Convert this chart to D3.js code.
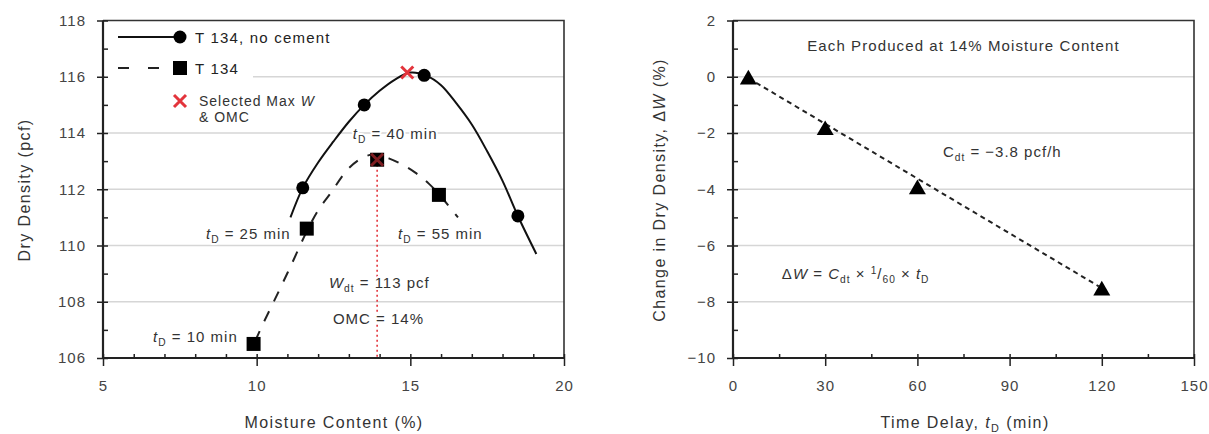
<!DOCTYPE html>
<html>
<head>
<meta charset="utf-8">
<script src="https://cdn.jsdelivr.net/npm/d3@7"></script>
<style>
body { margin: 0; background: #fff; }
svg text { font-family: "Liberation Sans", Arial, sans-serif; }
</style>
</head>
<body>
<div id="chart"></div>
<script>
// ---- left panel data
const moistureNoCement = [11.5, 13.5, 15.45, 18.5];
const densityNoCement = [112.05, 115.0, 116.05, 111.05];
const moistureT134 = [9.9, 11.63, 13.92, 15.93];
const densityT134 = [106.5, 110.6, 113.05, 111.8];
const selectedMoisture = [14.9, 13.92];
const selectedDensity = [116.15, 113.05];
// fitted curves as drawn in the figure
const fitNoCementMoisture = [11.1, 11.5, 12.0, 12.5, 13.0, 13.5, 14.0, 14.5, 15.0, 15.5, 16.0, 16.5, 17.0, 17.5, 18.0, 18.5, 19.1];
const fitNoCementDensity = [111.0, 112.05, 112.95, 113.7, 114.4, 115.0, 115.5, 115.9, 116.15, 116.05, 115.7, 115.05, 114.3, 113.35, 112.3, 111.05, 109.7];
const fitT134Moisture = [9.95, 10.2, 10.6, 11.1, 11.63, 12.0, 12.4, 13.0, 13.5, 13.9, 14.3, 14.7, 15.15, 15.6, 15.95, 16.55];
const fitT134Density = [106.6, 107.2, 108.1, 109.25, 110.5, 111.25, 111.85, 112.75, 113.15, 113.25, 113.1, 112.9, 112.6, 112.2, 111.8, 111.0];
const leftXTicks = [5, 10, 15, 20];
const leftXMinor = [6, 7, 8, 9, 11, 12, 13, 14, 16, 17, 18, 19];
const leftYTicks = [106, 108, 110, 112, 114, 116, 118];
const leftYMinor = [107, 109, 111, 113, 115, 117];
const leftGrid = [108, 110, 112, 114, 116];

// ---- right panel data
const delayMin = [5, 30, 60, 120];
const densityChange = [-0.1, -1.9, -4.0, -7.6];
const trendDelay = [5, 119];
const trendChange = [-0.05, -7.45];
const rightXTicks = [0, 30, 60, 90, 120, 150];
const rightXMinor = [15, 45, 75, 105, 135];
const rightYTicks = [-10, -8, -6, -4, -2, 0, 2];
const rightYLabels = ["\u221210", "\u22128", "\u22126", "\u22124", "\u22122", "0", "2"];
const rightYMinor = [-9, -7, -5, -3, -1, 1];
const rightGrid = [-8, -6, -4, -2, 0];

const svg = d3.select("#chart").append("svg")
    .attr("width", 1209)
    .attr("height", 434);

const xL = d3.scaleLinear().domain([5, 20]).range([103, 564]);
const yL = d3.scaleLinear().domain([106, 118]).range([358, 20.5]);
const xR = d3.scaleLinear().domain([0, 150]).range([733, 1194]);
const yR = d3.scaleLinear().domain([-10, 2]).range([358, 20.5]);

const RED = "#e3343c";

function drawGrid(x, y, vals) {
    svg.append("g").selectAll("line")
        .data(vals)
        .join("line")
        .attr("x1", x.range()[0]).attr("x2", x.range()[1])
        .attr("y1", d => y(d)).attr("y2", d => y(d))
        .attr("stroke", "#d6d6d6")
        .attr("stroke-width", 1.5);
}

function drawFrame(x, y) {
    const [x0, x1] = x.range(), [y0, y1] = y.range();
    svg.append("path")
        .attr("d", `M${x0},${y1}H${x1}V${y0}`)
        .attr("fill", "none")
        .attr("stroke", "#333")
        .attr("stroke-width", 1.6);
}

function styleTicks(g, size, padFix) {
    g.select(".domain").remove();
    g.selectAll(".tick line").attr("stroke", "#222").attr("stroke-width", 1.5);
    g.selectAll(".tick text")
        .attr("fill", "#444")
        .attr("font-size", 15)
        .attr("letter-spacing", "1px")
        .attr("font-family", '"Liberation Sans", Arial, sans-serif');
}

function drawAxes(x, y, xt, xm, yt, ym, yFmt) {
    const y0 = y.range()[0], x0 = x.range()[0];
    // outer ticks + labels
    svg.append("g").attr("transform", `translate(0,${y0})`)
        .call(d3.axisBottom(x).tickValues(xt).tickSize(8).tickPadding(14).tickFormat(d3.format("d")))
        .call(g => styleTicks(g));
    svg.append("g").attr("transform", `translate(0,${y0})`)
        .call(d3.axisTop(x).tickValues(xt.concat(xm)).tickSize(4).tickFormat(""))
        .call(g => styleTicks(g));
    svg.append("g").attr("transform", `translate(${x0},0)`)
        .call(d3.axisLeft(y).tickValues(yt).tickSize(6).tickPadding(11).tickFormat(yFmt))
        .call(g => styleTicks(g));
    svg.append("g").attr("transform", `translate(${x0},0)`)
        .call(d3.axisRight(y).tickValues(yt.concat(ym)).tickSize(5).tickFormat(""))
        .call(g => styleTicks(g));
    // axis lines
    svg.append("path")
        .attr("d", `M${x0},${y.range()[1]}V${y0}H${x.range()[1]}`)
        .attr("fill", "none")
        .attr("stroke", "#222")
        .attr("stroke-width", 2.2);
}

// rich text with italic / sub / sup parts, white halo so grid lines break behind it
function rich(x, y, parts, opts) {
    opts = opts || {};
    const size = opts.size || 15;
    const t = svg.append("text")
        .attr("x", x).attr("y", y)
        .attr("font-size", size)
        .attr("fill", opts.fill || "#333")
        .attr("letter-spacing", opts.ls || "1px")
        .attr("text-anchor", opts.anchor || "start")
        .attr("stroke", opts.halo === false ? "none" : "#fff")
        .attr("stroke-width", 4)
        .attr("stroke-linejoin", "round")
        .attr("paint-order", "stroke");
    if (opts.rotate) t.attr("transform", `rotate(-90,${x},${y})`).attr("dy", "0.35em");
    let shift = 0;
    parts.forEach(p => {
        const s = p.sub ? 4 : p.sup ? -5 : 0;
        const ts = t.append("tspan").text(p.t);
        if (s - shift !== 0) ts.attr("dy", s - shift);
        shift = s;
        if (p.sub || p.sup) ts.attr("font-size", size * 0.68);
        if (p.i) ts.attr("font-style", "italic");
    });
    return t;
}

function xMark(sel) {
    return sel.attr("d", "M-6,-6L6,6M-6,6L6,-6")
        .attr("stroke", RED)
        .attr("stroke-width", 3)
        .attr("fill", "none");
}

// ================= LEFT PANEL =================
drawGrid(xL, yL, leftGrid);
drawFrame(xL, yL);

// legend box hides grid behind it
svg.append("rect").attr("x", 105).attr("y", 22).attr("width", 148).attr("height", 104).attr("fill", "#fff");

const noCement = moistureNoCement.map((m, i) => ({x: m, y: densityNoCement[i]}));
const t134 = moistureT134.map((m, i) => ({x: m, y: densityT134[i]}));
const fitA = fitNoCementMoisture.map((m, i) => ({x: m, y: fitNoCementDensity[i]}));
const fitB = fitT134Moisture.map((m, i) => ({x: m, y: fitT134Density[i]}));
const selected = selectedMoisture.map((m, i) => ({x: m, y: selectedDensity[i]}));

const lineL = d3.line().x(d => xL(d.x)).y(d => yL(d.y)).curve(d3.curveCatmullRom);

// red dotted line at OMC
svg.append("line")
    .attr("x1", xL(selected[1].x)).attr("x2", xL(selected[1].x))
    .attr("y1", yL(selected[1].y)).attr("y2", yL(106))
    .attr("stroke", RED)
    .attr("stroke-width", 1.6)
    .attr("stroke-dasharray", "2,3");

svg.append("path").datum(fitB)
    .attr("d", lineL)
    .attr("fill", "none")
    .attr("stroke", "#222")
    .attr("stroke-width", 2)
    .attr("stroke-dasharray", "11,11");

svg.append("path").datum(fitA)
    .attr("d", lineL)
    .attr("fill", "none")
    .attr("stroke", "#111")
    .attr("stroke-width", 2);

svg.append("g").selectAll("rect")
    .data(t134)
    .join("rect")
    .attr("x", d => xL(d.x) - 7).attr("y", d => yL(d.y) - 7)
    .attr("width", 14).attr("height", 14)
    .attr("fill", "#000");

svg.append("g").selectAll("circle")
    .data(noCement)
    .join("circle")
    .attr("cx", d => xL(d.x)).attr("cy", d => yL(d.y))
    .attr("r", 6.5)
    .attr("fill", "#000");

svg.append("g").selectAll("path")
    .data(selected)
    .join("path")
    .attr("transform", d => `translate(${xL(d.x)},${yL(d.y)})`)
    .call(xMark)
    .attr("opacity", (d, i) => i === 1 ? 0.55 : 1);

// legend
svg.append("line").attr("x1", 118).attr("x2", 180).attr("y1", 37).attr("y2", 37)
    .attr("stroke", "#111").attr("stroke-width", 2);
svg.append("circle").attr("cx", 180).attr("cy", 37).attr("r", 6.5).attr("fill", "#000");
rich(195, 43, [{t: "T 134, no cement"}], {fill: "#222", halo: false, ls: "1.2px"});

svg.append("line").attr("x1", 118).attr("x2", 166).attr("y1", 68).attr("y2", 68)
    .attr("stroke", "#222").attr("stroke-width", 2).attr("stroke-dasharray", "11,19");
svg.append("rect").attr("x", 173).attr("y", 61).attr("width", 14).attr("height", 14).attr("fill", "#000");
rich(195, 74, [{t: "T 134"}], {fill: "#222", halo: false, ls: "1.2px"});

svg.append("path").attr("transform", "translate(180,101)").call(xMark);
rich(199, 106, [{t: "Selected Max "}, {t: "W", i: true}], {fill: "#333", halo: false, size: 14});
rich(199, 122, [{t: "& OMC"}], {fill: "#333", halo: false, size: 14});

// annotations
const tD = n => [{t: "t", i: true}, {t: "D", sub: true}, {t: " = " + n + " min"}];
rich(xL(13.13), yL(113.79), tD(40));
rich(xL(8.35), yL(110.23), tD(25));
rich(xL(14.6), yL(110.23), tD(55));
rich(xL(6.63), yL(106.57), tD(10));
rich(xL(12.35), yL(108.49), [{t: "W", i: true}, {t: "dt", sub: true}, {t: " = 113 pcf"}]);
rich(xL(12.48), yL(107.21), [{t: "OMC = 14%"}]);

drawAxes(xL, yL, leftXTicks, leftXMinor, leftYTicks, leftYMinor, d3.format("d"));

// axis titles
rich(24, 190, [{t: "Dry Density (pcf)"}], {rotate: true, anchor: "middle", size: 16, ls: "1.4px", halo: false, fill: "#333"});
rich(334, 428, [{t: "Moisture Content (%)"}], {anchor: "middle", size: 16, ls: "1.4px", halo: false, fill: "#333"});

// ================= RIGHT PANEL =================
drawGrid(xR, yR, rightGrid);
drawFrame(xR, yR);

const change = delayMin.map((t, i) => ({x: t, y: densityChange[i]}));
const trend = trendDelay.map((t, i) => ({x: t, y: trendChange[i]}));

svg.append("path").datum(trend)
    .attr("d", d3.line().x(d => xR(d.x)).y(d => yR(d.y)))
    .attr("fill", "none")
    .attr("stroke", "#222")
    .attr("stroke-width", 2)
    .attr("stroke-dasharray", "5,4");

svg.append("g").selectAll("path")
    .data(change)
    .join("path")
    .attr("transform", d => `translate(${xR(d.x)},${yR(d.y)})`)
    .attr("d", d3.symbol().type(d3.symbolTriangle).size(125))
    .attr("fill", "#000");

rich(xR(75), yR(0.916), [{t: "Each Produced at 14% Moisture Content"}], {anchor: "middle", ls: "1.1px"});
rich(xR(68.3), yR(-2.85), [{t: "C"}, {t: "dt", sub: true}, {t: " = \u22123.8 pcf/h"}]);
rich(xR(15.9), yR(-7.19), [{t: "\u0394"}, {t: "W", i: true}, {t: " = "}, {t: "C", i: true}, {t: "dt", sub: true},
    {t: " \u00d7 "}, {t: "1", sup: true}, {t: "/"}, {t: "60", sub: true}, {t: " \u00d7 "}, {t: "t", i: true}, {t: "D", sub: true}]);

drawAxes(xR, yR, rightXTicks, rightXMinor, rightYTicks, rightYMinor, (d, i) => rightYLabels[rightYTicks.indexOf(d)]);

rich(659, 190, [{t: "Change in Dry Density, \u0394"}, {t: "W", i: true}, {t: " (%)"}], {rotate: true, anchor: "middle", size: 16, ls: "1.4px", halo: false, fill: "#333"});
rich(965, 428, [{t: "Time Delay, "}, {t: "t", i: true}, {t: "D", sub: true}, {t: " (min)"}], {anchor: "middle", size: 16, ls: "1.4px", halo: false, fill: "#333"});
</script>
</body>
</html>
